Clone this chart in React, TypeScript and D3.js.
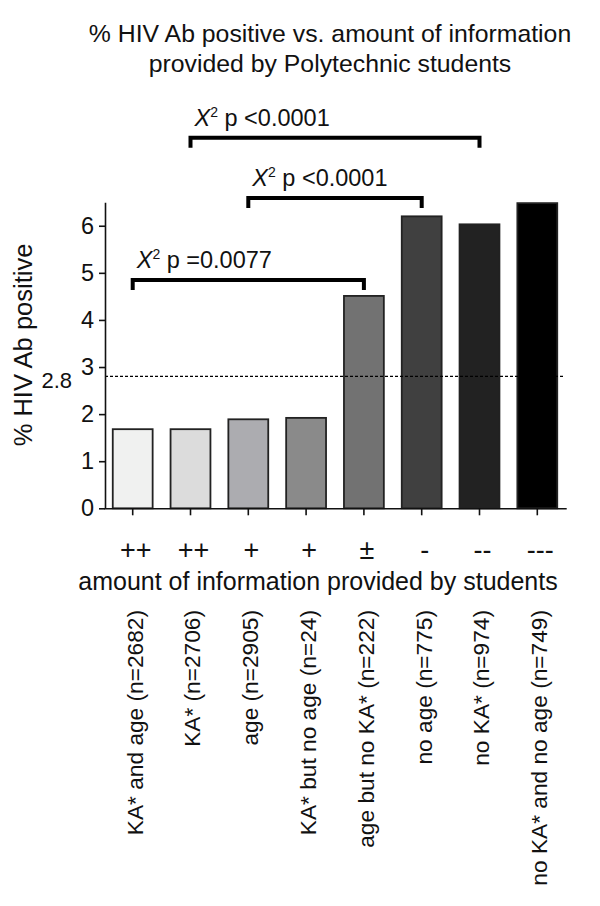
import React, { useEffect, useRef } from "react";
import * as d3 from "d3";

const categories = [
  "KA* and age (n=2682)",
  "KA* (n=2706)",
  "age (n=2905)",
  "KA* but no age (n=24)",
  "age but no KA* (n=222)",
  "no age (n=775)",
  "no KA* (n=974)",
  "no KA* and no age (n=749)",
];
const symbols = ["++", "++", "+", "+", "±", "-", "--", "---"];
const values = [1.68, 1.68, 1.89, 1.92, 4.51, 6.2, 6.03, 6.48];
const fills = ["#f0f1f0", "#dcdcdc", "#acacb0", "#8a8a8a", "#727272", "#404040", "#222222", "#000000"];
const yTicks = [0, 1, 2, 3, 4, 5, 6];
const referenceValue = 2.8;
const bracketFrom = [1, 2, 0];
const bracketTo = [6, 5, 4];
const bracketLevel = [7.87, 6.59, 4.85];
const bracketLabel = [" p <0.0001", " p <0.0001", " p =0.0077"];
const titleLines = ["% HIV Ab positive vs. amount of information", "provided by Polytechnic students"];

const FONT = "'Liberation Sans', Arial, Helvetica, sans-serif";

export default function App() {
  const ref = useRef<SVGSVGElement | null>(null);

  useEffect(() => {
    const svg = d3.select(ref.current);
    svg.selectAll("*").remove();

    const y = d3.scaleLinear().domain([0, 6.5]).range([508.3, 202.2]);
    const x = d3
      .scaleBand<string>()
      .domain(categories)
      .range([103.8, 566.2])
      .paddingInner(0.31)
      .paddingOuter(0.155);
    const bw = x.bandwidth();
    const cx = (c: string) => (x(c) as number) + bw / 2;

    // title
    svg
      .append("g")
      .selectAll("text")
      .data(titleLines)
      .join("text")
      .attr("x", 330)
      .attr("y", (_d, i) => 42 + i * 30)
      .attr("text-anchor", "middle")
      .attr("font-family", FONT)
      .attr("font-size", 24.8)
      .attr("fill", "#111")
      .text((d) => d);

    // bars
    svg
      .append("g")
      .selectAll("rect")
      .data(categories)
      .join("rect")
      .attr("x", (d) => x(d) as number)
      .attr("width", bw)
      .attr("y", (_d, i) => y(values[i]))
      .attr("height", (_d, i) => y(0) - y(values[i]))
      .attr("fill", (_d, i) => fills[i])
      .attr("stroke", "#222")
      .attr("stroke-width", 1.8);

    // reference dashed line
    svg
      .append("line")
      .attr("x1", 105)
      .attr("x2", 564)
      .attr("y1", y(referenceValue))
      .attr("y2", y(referenceValue))
      .attr("stroke", "#000")
      .attr("stroke-width", 1.2)
      .attr("stroke-dasharray", "3,2");
    svg
      .append("text")
      .attr("x", 72)
      .attr("y", y(referenceValue) + 4)
      .attr("dy", "0.35em")
      .attr("text-anchor", "end")
      .attr("font-family", FONT)
      .attr("font-size", 22)
      .attr("fill", "#111")
      .text(String(referenceValue));

    // y axis
    const gy = svg
      .append("g")
      .attr("transform", "translate(105,0)")
      .call(
        d3
          .axisLeft(y)
          .tickValues(yTicks)
          .tickSize(6)
          .tickSizeOuter(0)
          .tickPadding(5)
          .tickFormat(d3.format("d"))
      );
    gy.selectAll("path,line").attr("stroke", "#111").attr("stroke-width", 1.6);
    gy.selectAll("text").attr("font-family", FONT).attr("font-size", 23.5).attr("fill", "#111");

    // x axis
    const gx = svg
      .append("g")
      .attr("transform", `translate(0,${y(0)})`)
      .call(d3.axisBottom(x).tickSize(7).tickSizeOuter(0).tickFormat(() => ""));
    gx.selectAll("path,line").attr("stroke", "#111").attr("stroke-width", 1.6);

    // symbols row
    svg
      .append("g")
      .selectAll("text")
      .data(categories)
      .join("text")
      .attr("x", (d) => cx(d) + 3)
      .attr("y", 559)
      .attr("text-anchor", "middle")
      .attr("font-family", FONT)
      .attr("font-size", 27)
      .attr("fill", "#111")
      .text((_d, i) => symbols[i]);

    // x axis title
    svg
      .append("text")
      .attr("x", 318)
      .attr("y", 590)
      .attr("text-anchor", "middle")
      .attr("font-family", FONT)
      .attr("font-size", 25)
      .attr("fill", "#111")
      .text("amount of information provided by students");

    // rotated category labels
    svg
      .append("g")
      .selectAll("text")
      .data(categories)
      .join("text")
      .attr("transform", (d) => `translate(${cx(d) + 2},610) rotate(-90)`)
      .attr("dy", "0.35em")
      .attr("text-anchor", "end")
      .attr("font-family", FONT)
      .attr("font-size", 22.7)
      .attr("fill", "#111")
      .text((d) => d);

    // y axis title
    svg
      .append("text")
      .attr("transform", "translate(23,345) rotate(-90)")
      .attr("dy", "0.35em")
      .attr("text-anchor", "middle")
      .attr("font-family", FONT)
      .attr("font-size", 25.5)
      .attr("fill", "#111")
      .text("% HIV Ab positive");

    // brackets
    const gb = svg.append("g");
    bracketFrom.forEach((from, i) => {
      const x1 = cx(categories[from]);
      const x2 = cx(categories[bracketTo[i]]);
      const yy = y(bracketLevel[i]);
      gb.append("path")
        .attr("d", `M${x1},${yy + 10}V${yy}H${x2}V${yy + 10}`)
        .attr("fill", "none")
        .attr("stroke", "#000")
        .attr("stroke-width", 4);
      const t = gb
        .append("text")
        .attr("x", x1 + 4)
        .attr("y", yy - 12)
        .attr("font-family", FONT)
        .attr("font-size", 23.5)
        .attr("fill", "#111");
      t.append("tspan").attr("font-style", "italic").text("X");
      t.append("tspan").attr("font-size", 14).attr("dy", -9).text("2");
      t.append("tspan").attr("dy", 9).text(bracketLabel[i]);
    });
  }, []);

  return (
    <svg
      ref={ref}
      width={600}
      height={906}
      style={{ position: "absolute", left: 0, top: 0, background: "#fff" }}
    />
  );
}
